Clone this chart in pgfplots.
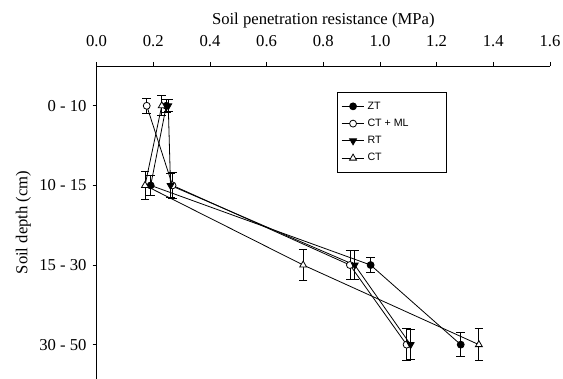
\documentclass[border=0pt]{standalone}
\usepackage{pgfplots}
\pgfplotsset{compat=1.18}
\usepackage{fontspec}
\setmainfont{Liberation Serif}
\setsansfont{Liberation Sans}

\begin{document}
\begin{tikzpicture}
\begin{axis}[
  scale only axis,
  width=340.2pt, height=234.75pt,
  xmin=0, xmax=1.6, ymin=0.5, ymax=4.43,
  y dir=reverse,
  clip=false,
  axis x line=top, axis y line=left,
  axis line style={-, line width=0.6pt},
  tick align=outside, major tick length=3pt,
  tick style={line width=0.6pt, black},
  minor tick num=0,
  xtick={0,0.2,0.4,0.6,0.8,1.0,1.2,1.4,1.6},
  xticklabel={\pgfmathprintnumber[fixed,fixed zerofill,precision=1]{\tick}},
  /pgf/number format/assume math mode=true,
  ytick={1,2,3,4},
  yticklabels={0 - 10, 10 - 15, 15 - 30, 30 - 50},
  ticklabel style={font=\fontsize{12.5}{14}\selectfont},
  xticklabel style={anchor=center, yshift=15.75pt},
  yticklabel style={anchor=east, xshift=-1pt},
  label style={font=\fontsize{12.5}{14}\selectfont},
  xlabel={Soil penetration resistance (MPa)},
  xlabel style={at={(axis description cs:0.5,1)}, anchor=center, yshift=34.5pt},
  ylabel={Soil depth (cm)},
  ylabel style={at={(axis description cs:0,0.5)}, anchor=center, yshift=55pt},
  error bars/error bar style={line width=0.6pt, black},
  error bars/error mark options={mark size=3.2pt, line width=0.6pt, black, rotate=90},
  legend style={at={(axis description cs:0.530,0.917)}, anchor=north west,
    draw=black, line width=0.6pt, font=\sffamily\fontsize{8}{9.5}\selectfont,
    row sep=1.9pt, inner xsep=3pt, inner ysep=5pt},
  legend cell align=left,
]
\coordinate (bl) at (axis cs:0,4.43);
\coordinate (tr) at (axis cs:1.6,0.5);

% ZT
\addplot[black, line width=0.6pt, mark=*, mark size=2.6pt,
  mark options={solid, fill=black, draw=black},
  error bars/.cd, y dir=both, y explicit]
  coordinates {
    (0.246,1) +- (0,0.08)
    (0.191,2) +- (0,0.125)
    (0.967,3) +- (0,0.09)
    (1.285,4) +- (0,0.15)
  };
\addlegendentry{\makebox[54pt][l]{ZT}}

% CT + ML
\addplot[black, line width=0.6pt, mark=*, mark size=2.6pt,
  mark options={solid, fill=white, draw=black},
  error bars/.cd, y dir=both, y explicit]
  coordinates {
    (0.177,1) +- (0,0.09)
    (0.268,2) +- (0,0.16)
    (0.894,3) +- (0,0.18)
    (1.094,4) +- (0,0.20)
  };
\addlegendentry{\makebox[54pt][l]{CT + ML}}

% RT
\addplot[black, line width=0.6pt, mark=triangle*, mark size=3pt,
  mark options={solid, fill=black, draw=black, rotate=180},
  error bars/.cd, y dir=both, y explicit]
  coordinates {
    (0.253,1) +- (0,0.075)
    (0.261,2) +- (0,0.156)
    (0.911,3) +- (0,0.18)
    (1.108,4) +- (0,0.19)
  };
\addlegendentry{\makebox[54pt][l]{RT}}

% CT
\addplot[black, line width=0.6pt, mark=triangle*, mark size=3pt,
  mark options={solid, fill=white, draw=black},
  error bars/.cd, y dir=both, y explicit]
  coordinates {
    (0.230,1) +- (0,0.125)
    (0.171,2) +- (0,0.175)
    (0.729,3) +- (0,0.19)
    (1.349,4) +- (0,0.20)
  };
\addlegendentry{\makebox[54pt][l]{CT}}
\end{axis}
\pgfresetboundingbox
\path[use as bounding box] ([xshift=-72.45pt]bl) rectangle ([xshift=9.75pt,yshift=49.5pt]tr);
\end{tikzpicture}
\end{document}
